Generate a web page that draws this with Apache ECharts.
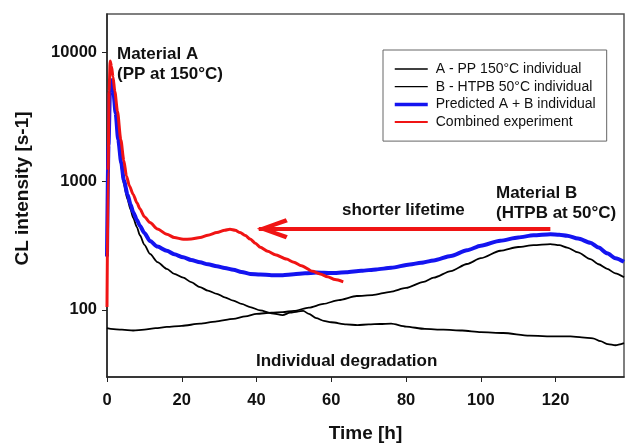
<!DOCTYPE html>
<html>
<head>
<meta charset="utf-8">
<script src="https://cdn.jsdelivr.net/npm/echarts@6/dist/echarts.min.js"></script>
<style>
  html, body { margin: 0; padding: 0; background: #fff; }
  #chart { width: 626px; height: 448px; }
</style>
</head>
<body>
<div id="chart"></div>
<script>
// [time h, CL intensity s-1]
const ppA = [
  [0, 190], [0.4, 1800], [0.8, 5000], [1.2, 6000], [1.7, 4800], [2.3, 3300], [3, 2000],
  [3.8, 1300], [4.5, 950], [5.5, 720], [6.3, 600], [7, 520], [8, 440], [8.8, 380],
  [10, 320], [11.5, 272], [13.5, 235], [16, 208], [18, 190], [20.4, 178], [22.5, 164],
  [24.9, 150], [27, 141], [29.4, 133], [31.5, 125], [33.8, 118], [36, 111], [38.3, 105],
  [41, 99], [44, 94], [47, 91], [49, 95], [51, 97], [52.5, 98], [54, 93], [56, 86],
  [58, 82], [60, 80], [64, 77], [67, 76], [70, 77], [73, 77.5], [76, 78], [80, 74],
  [85, 71], [90, 70], [95, 69], [100, 67], [106, 66], [113, 63], [120, 62], [124, 62],
  [127, 61], [130, 60], [132, 57], [134, 54], [136, 53], [138.3, 55]
]

const htpbB = [
  [0, 72], [1, 71], [4, 70], [7, 69], [10, 70], [13, 72], [16, 73.5], [20, 75],
  [24.9, 78], [29, 81], [33.8, 85], [37, 89], [40, 93], [44, 95], [47, 96], [50, 98],
  [54, 104], [57.9, 111], [62, 119], [66.8, 128], [71, 130], [75.8, 138], [80, 148],
  [84.7, 165], [87.4, 178], [92, 200], [96.3, 227], [100, 252], [105.2, 288], [110, 308],
  [114.1, 318], [118.6, 324], [121, 318], [123.1, 305], [126, 280], [129.3, 248],
  [131.5, 226], [133.8, 208], [136, 192], [138.3, 179]
]

const predicted = [
  [0, 260], [0.4, 1900], [0.8, 5000], [1.25, 6100], [1.7, 5000], [2.3, 3400], [3, 2100],
  [3.8, 1400], [4.5, 1020], [5.5, 790], [6.3, 660], [7, 575], [8, 500], [8.8, 450],
  [10, 395], [11.5, 343], [13.5, 310], [16, 288], [18, 270], [20.4, 256], [22.5, 244],
  [24.9, 234], [27, 226], [29.4, 218], [31.5, 211], [33.8, 205], [36, 197], [38.3, 190],
  [41, 188], [44, 186], [47, 186], [50, 189], [53, 192], [56, 195], [60, 193], [64, 196],
  [68, 201], [72, 206], [76, 212], [81, 225], [84, 232], [87.4, 242], [92, 262],
  [96.3, 290], [100, 315], [105.2, 345], [110, 365], [114.1, 380], [118.6, 387],
  [121, 384], [123.1, 377], [126, 358], [129.3, 332], [131.5, 305], [133.8, 275],
  [136, 252], [138.3, 236]
]

const combined = [
  [0, 105], [0.3, 1200], [0.55, 5000], [0.85, 8600], [1.2, 7800], [1.6, 6500], [2.1, 5000],
  [2.8, 3500], [3.7, 2100], [4.5, 1450], [5.2, 1100], [6, 920], [7, 790], [8, 680],
  [8.8, 610], [10, 530], [11.5, 477], [13.5, 425], [16, 387], [18, 365], [20.4, 354],
  [22.5, 355], [24.9, 365], [27, 380], [29.4, 399], [31.5, 415], [32.9, 423], [34.3, 415],
  [35.6, 399], [37, 378], [38.3, 355], [39.7, 330], [41, 307], [43, 285], [45, 268],
  [48, 248], [50, 234], [52, 220], [55, 199], [57, 190], [59, 181], [61, 172], [63.2, 165]
]

const seriesNames = ['A - PP 150°C individual', 'B - HTPB 50°C individual', 'Predicted A + B individual', 'Combined experiment']
const arrowFrom = [118.6, 427]
const arrowTo = [40.6, 427]

const FONT = '"Liberation Sans", Arial, sans-serif'
// open chevron pointing up, tip kept at the centre of the symbol box
const chevron = 'path://M0,-29 L0.01,-29 L0,-29 Z M0,-2 L10.5,27 L6.5,29 L0,10 L-6.5,29 L-10.5,27 Z'

const chart = echarts.init(document.getElementById('chart'))

function lineSeries(name, data, color, width) {
  return {
    name,
    type: 'line',
    symbol: 'none',
    smooth: 0.25,
    smoothMonotone: 'x',
    data,
    lineStyle: { color, width },
    itemStyle: { color },
  }
}

const redSeries = lineSeries(seriesNames[3], combined, '#f01414', 3)
redSeries.markLine = {
  silent: true,
  symbol: ['none', chevron],
  symbolSize: [21, 58],
  label: { show: false },
  lineStyle: { color: '#f01414', width: 4, type: 'solid' },
  itemStyle: { color: '#f01414' },
  data: [[{ coord: arrowFrom }, { coord: arrowTo }]],
}

const option = {
  animation: false,
  backgroundColor: '#fff',
  grid: {
    left: 107,
    top: 14,
    right: 2,
    bottom: 69,
    show: true,
    borderColor: '#555',
    borderWidth: 1.5,
  },
  legend: {
    orient: 'vertical',
    left: 383,
    top: 50,
    padding: [12, 11, 12, 10],
    itemWidth: 33,
    itemHeight: 14,
    itemGap: 3.7,
    borderColor: '#666',
    borderWidth: 1,
    itemStyle: { opacity: 0 },
    textStyle: { fontFamily: FONT, fontSize: 14, color: '#111', padding: [0, 0, 0, 3] },
    data: [
      { name: seriesNames[0], lineStyle: { width: 1.3 } },
      { name: seriesNames[1], lineStyle: { width: 1.3 } },
      { name: seriesNames[2], lineStyle: { width: 3.5 } },
      { name: seriesNames[3], lineStyle: { width: 2 } },
    ],
  },
  xAxis: {
    type: 'value',
    min: 0,
    max: 138.3,
    interval: 20,
    name: 'Time [h]',
    nameLocation: 'middle',
    nameGap: 47,
    nameTextStyle: { fontFamily: FONT, fontSize: 19, fontWeight: 'bold', color: '#111' },
    splitLine: { show: false },
    axisLine: { lineStyle: { color: '#222', width: 1.5 } },
    axisTick: { length: 5, lineStyle: { color: '#222' } },
    axisLabel: {
      showMaxLabel: false,
      margin: 15,
      fontFamily: FONT,
      fontSize: 16.5,
      fontWeight: 'bold',
      color: '#111',
    },
  },
  yAxis: {
    type: 'log',
    logBase: 10,
    min: 30,
    max: 20000,
    splitLine: { show: false },
    axisLine: { show: true, lineStyle: { color: '#222', width: 1.5 } },
    axisTick: { show: true, length: 5, lineStyle: { color: '#222' } },
    axisLabel: {
      showMinLabel: false,
      showMaxLabel: false,
      margin: 10,
      fontFamily: FONT,
      fontSize: 16.5,
      fontWeight: 'bold',
      color: '#111',
      formatter: v => String(Math.round(v)),
    },
  },
  series: [
    lineSeries(seriesNames[0], ppA, '#000', 1.8),
    lineSeries(seriesNames[1], htpbB, '#000', 1.8),
    lineSeries(seriesNames[2], predicted, '#1414f0', 4),
    redSeries,
  ],
  graphic: [
    {
      type: 'text', x: 22.5, y: 188.5, rotation: Math.PI / 2,
      style: { text: 'CL intensity [s-1]', font: 'bold 19px ' + FONT, fill: '#111',
        align: 'center', verticalAlign: 'middle', textAlign: 'center', textVerticalAlign: 'middle' },
    },
    {
      type: 'text', x: 117, y: 54,
      style: { text: 'Material A', font: 'bold 17px ' + FONT, fill: '#111',
        align: 'left', verticalAlign: 'middle', textAlign: 'left', textVerticalAlign: 'middle' },
    },
    {
      type: 'text', x: 117, y: 74,
      style: { text: '(PP at 150°C)', font: 'bold 17px ' + FONT, fill: '#111',
        align: 'left', verticalAlign: 'middle', textAlign: 'left', textVerticalAlign: 'middle' },
    },
    {
      type: 'text', x: 496, y: 193,
      style: { text: 'Material B', font: 'bold 17px ' + FONT, fill: '#111',
        align: 'left', verticalAlign: 'middle', textAlign: 'left', textVerticalAlign: 'middle' },
    },
    {
      type: 'text', x: 496, y: 213,
      style: { text: '(HTPB at 50°C)', font: 'bold 17px ' + FONT, fill: '#111',
        align: 'left', verticalAlign: 'middle', textAlign: 'left', textVerticalAlign: 'middle' },
    },
    {
      type: 'text', x: 342, y: 210,
      style: { text: 'shorter lifetime', font: 'bold 17px ' + FONT, fill: '#111',
        align: 'left', verticalAlign: 'middle', textAlign: 'left', textVerticalAlign: 'middle' },
    },
    {
      type: 'text', x: 256, y: 361,
      style: { text: 'Individual degradation', font: 'bold 17px ' + FONT, fill: '#111',
        align: 'left', verticalAlign: 'middle', textAlign: 'left', textVerticalAlign: 'middle' },
    },
  ],
}

chart.setOption(option)
</script>
</body>
</html>
